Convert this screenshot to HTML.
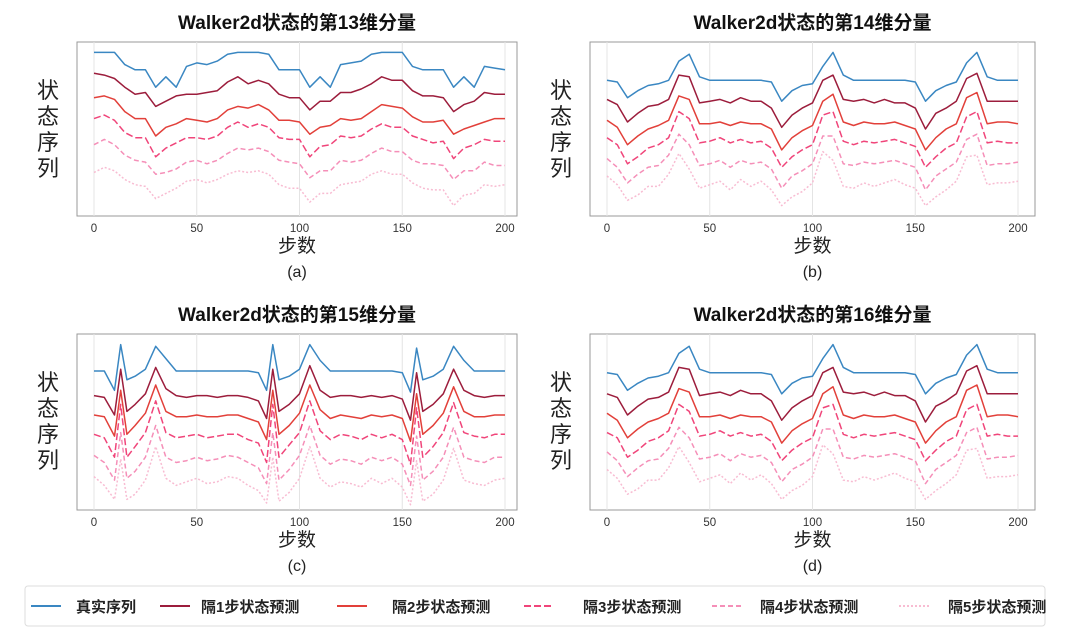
<!DOCTYPE html>
<html><head><meta charset="utf-8">
<style>
html,body{margin:0;padding:0;background:#fff;}
svg{display:block;font-family:"Liberation Sans","Noto Sans CJK SC",sans-serif;}
</style></head>
<body>
<svg id="chart" width="1080" height="632" viewBox="0 0 1080 632"></svg>
<script>
// ---- data ----
const stepsUniform = [0,5,10,15,20,25,30,35,40,45,50,55,60,65,70,75,80,85,90,95,100,105,110,115,120,125,130,135,140,145,150,155,160,165,170,175,180,185,190,195,200];
const stepsC = [0,5,10,13,16,20,25,30,35,40,45,50,55,60,65,70,75,80,84,87,90,95,100,105,110,115,120,125,130,135,140,145,150,154,157,160,165,170,175,180,185,190,195,200];
const xTicks = [0,50,100,150,200];
const seriesNames = ["真实序列","隔1步状态预测","隔2步状态预测","隔3步状态预测","隔4步状态预测","隔5步状态预测"];

const a_true = [9.4,9.4,9.4,8.7,8.4,8.4,7.4,8.0,7.4,8.6,8.8,8.7,8.9,9.3,9.4,9.4,9.4,9.3,8.4,8.4,8.4,7.4,8.0,7.4,8.7,8.8,8.9,9.3,9.4,9.4,9.4,8.6,8.4,8.4,8.4,7.4,8.0,7.4,8.6,8.5,8.4];
const a_p1 = [8.2,8.1,7.9,7.4,7.0,7.1,6.3,6.6,6.9,7.0,7.0,7.1,7.2,7.7,8.0,7.6,7.8,7.6,7.0,6.8,6.8,6.1,6.6,6.6,7.1,7.1,7.3,7.6,8.0,7.8,7.8,7.2,6.9,6.9,6.8,6.0,6.4,6.6,7.1,7.0,7.0];
const a_p2 = [6.8,6.9,6.7,6.0,5.6,5.6,4.6,5.1,5.3,5.6,5.5,5.4,5.6,6.1,6.3,6.2,6.4,6.1,5.5,5.5,5.4,4.7,5.1,5.2,5.6,5.5,5.6,6.0,6.4,6.3,6.2,5.7,5.4,5.4,5.5,4.7,5.0,5.2,5.4,5.6,5.6];
const a_p3 = [5.6,5.8,5.5,4.8,4.5,4.5,3.4,3.9,4.2,4.5,4.5,4.4,4.6,5.1,5.4,5.1,5.3,5.1,4.5,4.4,4.4,3.4,4.0,4.1,4.6,4.5,4.6,5.0,5.3,5.1,5.1,4.6,4.4,4.2,4.3,3.3,3.9,4.1,4.4,4.3,4.3];
const a_p4 = [4.1,4.4,4.1,3.5,3.2,3.1,2.4,2.5,2.7,3.1,3.2,3.0,3.2,3.6,3.9,3.8,3.9,3.7,3.2,3.1,3.0,2.2,2.6,2.6,3.2,3.1,3.2,3.6,3.9,3.7,3.7,3.2,3.0,3.0,2.9,2.1,2.6,2.6,3.1,2.9,2.9];
const a_p5 = [2.5,2.8,2.6,2.1,1.8,1.7,1.0,1.3,1.6,2.0,2.1,1.9,2.1,2.4,2.6,2.5,2.6,2.4,1.8,1.6,1.6,0.8,1.3,1.3,1.8,1.9,2.0,2.4,2.6,2.4,2.4,1.9,1.6,1.5,1.5,0.6,1.2,1.3,1.8,1.7,1.8];

const b_true = [7.8,7.7,6.8,7.2,7.5,7.6,7.8,8.9,9.3,8.0,7.8,7.8,7.8,7.8,7.8,7.8,7.7,6.6,7.2,7.5,7.6,8.6,9.4,8.1,7.8,7.8,7.8,7.8,7.8,7.8,7.7,6.6,7.2,7.5,7.7,8.8,9.4,8.0,7.8,7.8,7.8];
const b_p1 = [6.7,6.4,5.4,5.9,6.3,6.4,6.7,8.1,8.0,6.5,6.6,6.7,6.5,6.8,6.6,6.6,6.2,5.1,5.8,6.2,6.5,7.8,8.1,6.7,6.6,6.7,6.5,6.7,6.5,6.5,6.2,5.0,5.9,6.2,6.6,7.9,8.2,6.6,6.6,6.6,6.6];
const b_p2 = [5.5,5.1,4.1,4.6,5.0,5.2,5.5,6.9,6.7,5.3,5.3,5.4,5.2,5.4,5.3,5.3,5.0,3.8,4.5,4.9,5.2,6.6,7.0,5.4,5.2,5.4,5.3,5.3,5.4,5.2,5.0,3.8,4.5,5.0,5.3,6.8,7.1,5.3,5.4,5.4,5.3];
const b_p3 = [4.5,4.1,3.0,3.4,3.9,4.1,4.5,6.0,5.6,4.2,4.3,4.5,4.2,4.4,4.2,4.3,3.9,2.8,3.4,3.8,4.1,5.8,6.0,4.3,4.1,4.3,4.2,4.3,4.4,4.2,4.0,2.8,3.4,3.9,4.2,5.7,6.0,4.2,4.3,4.2,4.2];
const b_p4 = [3.3,2.8,1.9,2.4,2.8,2.9,3.5,4.7,4.1,2.9,3.0,3.2,2.8,3.2,3.0,3.1,2.7,1.6,2.3,2.6,3.0,4.6,4.6,3.0,2.9,3.1,3.0,3.1,3.2,3.0,2.8,1.5,2.3,2.7,3.1,4.4,4.7,2.9,3.0,3.0,3.1];
const b_p5 = [2.3,1.8,0.9,1.2,1.7,1.7,2.4,3.6,2.7,1.6,1.8,2.0,1.5,2.1,1.7,2.0,1.5,0.6,1.1,1.4,1.9,3.7,3.2,1.7,1.6,1.9,1.7,1.9,2.1,1.8,1.6,0.6,1.1,1.5,2.0,3.4,3.5,1.8,1.9,1.9,2.0];

const c_true = [7.9,7.9,6.8,9.4,7.4,7.6,8.0,9.3,8.6,7.9,7.9,7.9,7.9,7.9,7.9,7.9,7.9,7.8,6.8,9.4,7.4,7.6,8.0,9.4,8.5,7.9,7.9,7.9,7.9,7.9,7.9,7.9,7.8,6.7,9.2,7.4,7.6,8.0,9.3,8.5,7.9,7.9,7.9,7.9];
const c_p1 = [6.5,6.4,5.4,8.0,5.6,6.0,6.6,8.1,6.9,6.5,6.4,6.5,6.5,6.4,6.5,6.5,6.4,6.2,5.2,8.0,5.6,6.0,6.6,8.2,6.8,6.4,6.5,6.5,6.4,6.5,6.4,6.5,6.3,5.1,7.8,5.6,6.0,6.6,8.0,6.8,6.5,6.4,6.5,6.5];
const c_p2 = [5.4,5.3,4.2,6.8,4.3,4.8,5.5,7.1,5.6,5.3,5.3,5.4,5.3,5.3,5.4,5.4,5.2,5.0,4.0,6.8,4.3,4.8,5.5,7.1,5.7,5.2,5.4,5.3,5.2,5.4,5.3,5.4,5.2,3.9,6.6,4.3,4.8,5.5,7.0,5.6,5.3,5.3,5.4,5.4];
const c_p3 = [4.3,4.1,3.0,6.0,3.0,3.6,4.4,6.2,4.4,4.1,4.2,4.3,4.1,4.2,4.3,4.3,4.0,3.8,2.7,6.0,3.0,3.7,4.4,6.2,4.5,4.0,4.3,4.2,4.0,4.3,4.1,4.3,4.0,2.6,5.8,3.0,3.6,4.4,6.1,4.4,4.2,4.1,4.3,4.3];
const c_p4 = [3.1,2.7,1.7,4.4,1.8,2.2,3.0,4.8,3.0,2.7,2.8,3.0,2.8,2.9,3.1,3.0,2.7,2.4,1.5,4.4,1.7,2.3,3.1,4.8,3.1,2.6,2.9,2.8,2.6,3.0,2.8,3.0,2.6,1.4,4.2,1.7,2.2,3.0,4.7,3.0,2.8,2.7,3.0,3.0];
const c_p5 = [1.9,1.4,0.6,2.9,0.6,0.9,1.7,3.6,1.8,1.4,1.6,1.8,1.5,1.6,1.9,1.8,1.4,1.1,0.4,3.0,0.5,1.0,1.8,3.6,1.8,1.3,1.6,1.5,1.3,1.8,1.5,1.8,1.3,0.3,2.8,0.5,0.9,1.7,3.5,1.7,1.5,1.4,1.7,1.8];

const d_true = [7.8,7.7,6.8,7.2,7.5,7.6,7.8,8.9,9.3,8.0,7.8,7.8,7.8,7.8,7.8,7.8,7.7,6.6,7.2,7.5,7.6,8.6,9.4,8.1,7.8,7.8,7.8,7.8,7.8,7.8,7.7,6.6,7.2,7.5,7.7,8.8,9.4,8.0,7.8,7.8,7.8];
const d_p1 = [6.6,6.4,5.4,5.9,6.3,6.4,6.7,8.1,8.0,6.5,6.6,6.7,6.5,6.8,6.6,6.6,6.2,5.1,5.8,6.2,6.5,7.8,8.1,6.7,6.6,6.7,6.5,6.7,6.5,6.5,6.2,5.0,5.9,6.2,6.6,7.9,8.2,6.6,6.6,6.6,6.6];
const d_p2 = [5.5,5.1,4.1,4.6,5.0,5.2,5.5,6.9,6.7,5.3,5.3,5.4,5.2,5.4,5.3,5.3,5.0,3.8,4.5,4.9,5.2,6.6,7.0,5.4,5.2,5.4,5.3,5.3,5.4,5.2,5.0,3.8,4.5,5.0,5.3,6.8,7.1,5.3,5.4,5.4,5.3];
const d_p3 = [4.4,4.1,3.0,3.4,3.9,4.1,4.5,6.0,5.6,4.2,4.3,4.5,4.2,4.4,4.2,4.3,3.9,2.8,3.4,3.8,4.1,5.8,6.0,4.3,4.1,4.3,4.2,4.3,4.4,4.2,4.0,2.8,3.4,3.9,4.2,5.7,6.0,4.2,4.3,4.2,4.2];
const d_p4 = [3.3,2.8,1.9,2.4,2.8,2.9,3.5,4.7,4.1,2.9,3.0,3.2,2.8,3.2,3.0,3.1,2.7,1.6,2.3,2.6,3.0,4.6,4.6,3.0,2.9,3.1,3.0,3.1,3.2,3.0,2.8,1.5,2.3,2.7,3.1,4.4,4.7,2.9,3.0,3.0,3.1];
const d_p5 = [2.3,1.8,0.9,1.2,1.7,1.7,2.4,3.6,2.7,1.6,1.8,2.0,1.5,2.1,1.7,2.0,1.5,0.6,1.1,1.4,1.9,3.7,3.2,1.7,1.6,1.9,1.7,1.9,2.1,1.8,1.6,0.6,1.1,1.5,2.0,3.4,3.5,1.8,1.9,1.9,2.0];

const panelTitles = ["Walker2d状态的第13维分量","Walker2d状态的第14维分量","Walker2d状态的第15维分量","Walker2d状态的第16维分量"];
const panelLabels = ["(a)","(b)","(c)","(d)"];

// ---- styles ----
const colors = ["#3a87c2","#9c1d3c","#e2403a","#f0457a","#f58fb8","#f8bcd2"];
const dashes = ["","","","7,3","5,3","2,2"];

const svg = document.getElementById('chart');
const NS = "http://www.w3.org/2000/svg";
function mk(tag, attrs, parent){
  const e = document.createElementNS(NS, tag);
  for (const k in attrs) e.setAttribute(k, attrs[k]);
  (parent||svg).appendChild(e);
  return e;
}
function txt(s, attrs, parent){ const e = mk('text', attrs, parent); e.textContent = s; return e; }

const panels = [
  {left:77, right:517, top:42, bottom:216, x0:94, x1:505, steps:stepsUniform, data:[a_true,a_p1,a_p2,a_p3,a_p4,a_p5]},
  {left:590, right:1035, top:42, bottom:216, x0:607, x1:1018, steps:stepsUniform, data:[b_true,b_p1,b_p2,b_p3,b_p4,b_p5]},
  {left:77, right:517, top:334, bottom:510, x0:94, x1:505, steps:stepsC, data:[c_true,c_p1,c_p2,c_p3,c_p4,c_p5]},
  {left:590, right:1035, top:334, bottom:510, x0:607, x1:1018, steps:stepsUniform, data:[d_true,d_p1,d_p2,d_p3,d_p4,d_p5]}
];

panels.forEach((p, pi) => {
  const g = mk('g', {});
  
  
  const xs = t => p.x0 + (t/200)*(p.x1 - p.x0);
  const ys = v => p.bottom - (v/10)*(p.bottom - p.top);
  const frame = mk('rect', {x:p.left, y:p.top, width:p.right-p.left, height:p.bottom-p.top, fill:'#fff', stroke:'#999', 'stroke-width':1}, g);
  
  
  xTicks.forEach(t => {
    const gl = mk('line', {x1:xs(t), x2:xs(t), y1:p.top, y2:p.bottom, stroke:'#e4e4e4', 'stroke-width':1}, g);
    
    
    const tl = txt(String(t), {x:xs(t), y:p.bottom+16, 'font-size':11.5, 'text-anchor':'middle', fill:'#333'}, g);
    
    
  });
  for (let s = p.data.length-1; s >= 0; s--) {
    const d = p.data[s].map((v,i) => (i?'L':'M') + xs(p.steps[i]).toFixed(1) + ',' + ys(v).toFixed(1)).join(' ');
    const path = mk('path', {d:d, fill:'none', stroke:colors[s], 'stroke-width':1.5, 'stroke-linejoin':'round'}, g);
    if (dashes[s]) path.setAttribute('stroke-dasharray', dashes[s]);
    
    
  }
  const cx = (p.left + p.right)/2;
  const title = txt(panelTitles[pi], {x:cx, y:p.top-13, 'font-size':19, 'font-weight':'bold', 'text-anchor':'middle', fill:'#111'}, g);
  
  
  const xt = txt('步数', {x:cx, y:p.bottom+36, 'font-size':19, 'text-anchor':'middle', fill:'#222'}, g);
  
  
  const lab = txt(panelLabels[pi], {x:cx, y:p.bottom+61, 'font-size':16, 'text-anchor':'middle', fill:'#222'}, g);
  
  
  const yg = mk('g', {}, g);
  
  
  const yx = p.left - 29;
  '状态序列'.split('').forEach((ch, i) => {
    txt(ch, {x:yx, y:p.top + 56 + i*26, 'font-size':22, 'text-anchor':'middle', fill:'#222'}, yg);
  });
});

// ---- legend ----
const lg = mk('g', {});


mk('rect', {x:25, y:586, width:1020, height:40, rx:3, fill:'#fff', stroke:'#ddd', 'stroke-width':1}, lg);
const legX = [31, 160, 337, 524, 712, 899];
const legTextX = [76, 201, 392, 583, 760, 948];
seriesNames.forEach((n, i) => {
  const eg = mk('g', {}, lg);
  
  
  const l = mk('line', {x1:legX[i], x2:legX[i]+30, y1:606, y2:606, stroke:colors[i], 'stroke-width':2}, eg);
  if (dashes[i]) l.setAttribute('stroke-dasharray', dashes[i]);
  txt(n, {x:legTextX[i], y:612, 'font-size':15, 'font-weight':'bold', fill:'#222'}, eg);
});
</script>
</body></html>
